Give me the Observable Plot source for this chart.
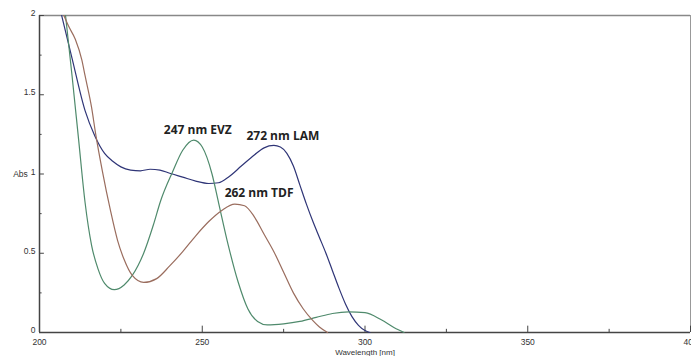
<!DOCTYPE html>
<html>
<head>
<meta charset="utf-8">
<script src="https://cdn.jsdelivr.net/npm/d3@7"></script>
<script src="https://cdn.jsdelivr.net/npm/@observablehq/plot@0.6"></script>
<style>
  html, body { margin: 0; padding: 0; background: #ffffff; }
  #chart { width: 691px; height: 356px; }
</style>
</head>
<body>
<div id="chart"></div>
<script>
// Wavelength (nm) / absorbance pairs
const lamWl  = [206.8, 210, 214, 217, 220, 222.5, 225, 228, 231, 234, 237, 240, 244, 248, 252, 255, 258, 262, 266, 269, 272, 274, 276, 278, 280, 282, 284, 286, 288, 290, 292, 294, 296, 298, 300, 301.5];
const lamAbs = [2.0, 1.73, 1.40, 1.24, 1.13, 1.08, 1.045, 1.025, 1.02, 1.03, 1.025, 1.005, 0.98, 0.955, 0.94, 0.945, 0.98, 1.05, 1.12, 1.165, 1.18, 1.17, 1.13, 1.05, 0.93, 0.81, 0.70, 0.60, 0.50, 0.39, 0.28, 0.18, 0.10, 0.045, 0.012, 0];

const evzWl  = [208, 210, 212, 214, 216, 218, 220, 223, 226, 228.5, 232, 235, 237.2, 240.8, 244, 247.4, 250, 253, 255, 258, 261, 264, 267, 270, 275, 280, 285, 290, 295, 300, 305, 309, 312];
const evzAbs = [2.0, 1.62, 1.22, 0.82, 0.55, 0.40, 0.31, 0.27, 0.30, 0.36, 0.50, 0.68, 0.83, 1.01, 1.15, 1.214, 1.17, 1.0, 0.82, 0.55, 0.32, 0.15, 0.07, 0.048, 0.055, 0.07, 0.095, 0.12, 0.13, 0.125, 0.08, 0.03, 0];

const tdfWl  = [207.5, 209, 211, 213, 214, 216, 217.2, 219.3, 221.8, 224, 226, 228.5, 232, 236, 240, 244, 248, 252, 256, 260, 263, 266, 269, 272, 275, 278, 281, 284, 286, 288.5];
const tdfAbs = [2.0, 1.93, 1.85, 1.72, 1.62, 1.42, 1.26, 1.02, 0.77, 0.58, 0.46, 0.36, 0.316, 0.34, 0.42, 0.51, 0.61, 0.70, 0.77, 0.81, 0.80, 0.73, 0.62, 0.51, 0.38, 0.25, 0.15, 0.075, 0.035, 0];

const seriesNames  = ["LAM", "EVZ", "TDF"];
const seriesColors = ["#2f3577", "#4f8a6c", "#9a6d5e"];

const peakWl    = [272, 247.4, 260.7];
const peakAbs   = [1.18, 1.214, 0.812];
const peakLabel = ["272 nm LAM", "247 nm EVZ", "262 nm TDF"];

const xMajor = [200, 250, 300, 350, 400];
const xMinor = [225, 275, 325, 375];
const yMajor = [0, 0.5, 1, 1.5, 2];
const yMinor = [0.25, 0.75, 1.25, 1.75];
const yTickText = ["0", "0.5", "1", "1.5", "2"];

const rows = [];
[[lamWl, lamAbs], [evzWl, evzAbs], [tdfWl, tdfAbs]].forEach(([w, a], i) => {
  w.forEach((wl, j) => rows.push({series: seriesNames[i], wl, abs: a[j]}));
});
const labels = peakLabel.map((t, i) => ({text: t, wl: peakWl[i], abs: peakAbs[i]}));
const labelOffsets = [[9, -9], [4, -10], [22, -11]];

const labelMarks = labels.map((d, i) => Plot.text([d], {
  x: "wl", y: "abs", text: "text",
  dx: labelOffsets[i][0], dy: labelOffsets[i][1],
  fontSize: 12, fontWeight: "bold", fill: "#222",
  fontFamily: "'Open Sans', sans-serif"
}));

const chart = Plot.plot({
  width: 691,
  height: 356,
  marginLeft: 39,
  marginRight: 1,
  marginTop: 15,
  marginBottom: 24,
  style: {background: "#ffffff", fontFamily: "'Liberation Sans', Arial, sans-serif"},
  x: {domain: [200, 400]},
  y: {domain: [0, 2]},
  color: {domain: seriesNames, range: seriesColors},
  marks: [
    // frame top/right
    Plot.ruleY([2], {stroke: "#888", strokeWidth: 1.5}),
    Plot.ruleX([400], {stroke: "#999", strokeWidth: 1}),
    // ticks inward
    Plot.ruleX(xMajor, {y1: 0, y2: 0.04, stroke: "#444"}),
    Plot.ruleX(xMinor, {y1: 0, y2: 0.02, stroke: "#444"}),
    Plot.ruleY(yMajor, {x1: 200, x2: 201.5, stroke: "#444"}),
    Plot.ruleY(yMinor, {x1: 200, x2: 200.8, stroke: "#444"}),
    // axes lines
    Plot.ruleY([0], {stroke: "#444", strokeWidth: 1.5}),
    Plot.ruleX([200], {stroke: "#444", strokeWidth: 1.5}),
    Plot.axisX(xMajor, {tickSize: 0, tickPadding: 6, fontSize: 8.5, fill: "#333", label: null}),
    Plot.axisY(yMajor, {tickSize: 0, tickPadding: 4, dy: -2, fontSize: 8.5, fill: "#333", label: null, tickFormat: (d, i) => yTickText[i]}),
    Plot.text(["Wavelength [nm]"], {frameAnchor: "bottom", dy: 22, fontSize: 8, fill: "#333"}),
    Plot.text(["Abs"], {x: 200, y: 1, dx: -19, fontSize: 8.5, fill: "#333"}),
    // spectra
    Plot.line(rows, {x: "wl", y: "abs", z: "series", stroke: "series", strokeWidth: 1.2, curve: "monotone-x"}),
    // peak annotations
    ...labelMarks
  ]
});
document.getElementById("chart").appendChild(chart);
</script>
</body>
</html>
